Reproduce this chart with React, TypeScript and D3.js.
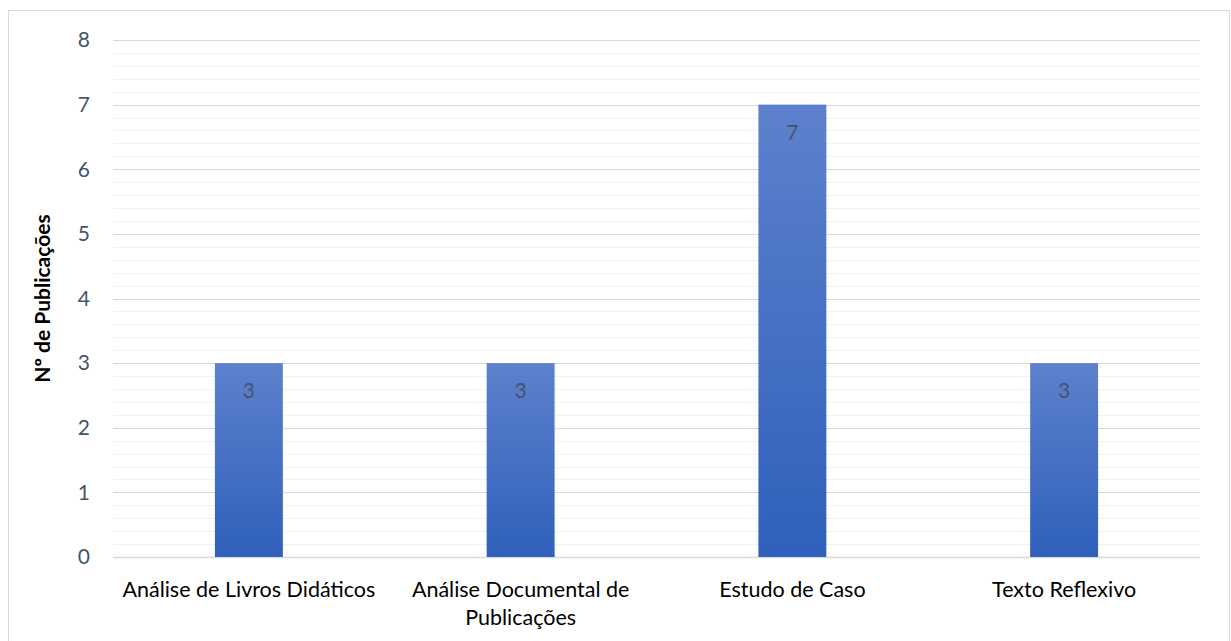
import React from "react";
import * as d3 from "d3";

const categories: string[][] = [
  ["Análise de Livros Didáticos"],
  ["Análise Documental de", "Publicações"],
  ["Estudo de Caso"],
  ["Texto Reflexivo"],
];
const values: number[] = [3, 3, 7, 3];
const yTicks: number[] = [0, 1, 2, 3, 4, 5, 6, 7, 8];
const yTitle = "Nº de Publicações";

const W = 1231;
const H = 641;
const left = 113;
const right = 1200;
const top = 40;
const bottom = 557;
const FONT = "Lato, Calibri, Carlito, sans-serif";

export default function App() {
  const x = d3
    .scaleBand<number>()
    .domain(values.map((_, i) => i))
    .range([left, right])
    .paddingInner(0.75)
    .paddingOuter(0.375);
  const y = d3.scaleLinear().domain([0, 8]).range([bottom, top]);
  const minor = d3.range(0, 8.0001, 0.2).filter((v) => Math.abs(v - Math.round(v)) > 1e-6);

  return (
    <svg
      width={W}
      height={H}
      style={{ position: "absolute", left: 0, top: 0, background: "#fff" }}
    >
      <defs>
        <linearGradient id="barGrad" x1="0" y1="0" x2="0" y2="1">
          <stop offset="0%" stopColor="#5d81cc" />
          <stop offset="100%" stopColor="#2f60bb" />
        </linearGradient>
      </defs>
      <rect x={8.5} y={10.5} width={1221} height={700} fill="#fff" stroke="#d9d9d9" strokeWidth={1} />
      {minor.map((v) => (
        <line key={"m" + v} x1={left} x2={right} y1={Math.round(y(v)) + 0.5} y2={Math.round(y(v)) + 0.5} stroke="#f2f2f2" strokeWidth={1} />
      ))}
      {yTicks.map((v) => (
        <line key={"g" + v} x1={left} x2={right} y1={Math.round(y(v)) + 0.5} y2={Math.round(y(v)) + 0.5} stroke="#d9d9d9" strokeWidth={v === 0 ? 1.5 : 1} />
      ))}
      {yTicks.map((v) => (
        <text key={"t" + v} x={90} y={y(v)} dy="0.35em" textAnchor="end" fontFamily={FONT} fontSize={21} fill="#44546a">
          {v}
        </text>
      ))}
      {values.map((v, i) => (
        <g key={"b" + i}>
          <rect x={x(i)} y={y(v)} width={x.bandwidth()} height={y(0) - y(v)} fill="url(#barGrad)" />
          <text x={(x(i) as number) + x.bandwidth() / 2} y={y(v) + 28} dy="0.35em" textAnchor="middle" fontFamily={FONT} fontSize={21} fill="#44546a">
            {v}
          </text>
        </g>
      ))}
      {categories.map((lines, i) => (
        <text key={"c" + i} x={(x(i) as number) + x.bandwidth() / 2} y={589} textAnchor="middle" fontFamily={FONT} fontSize={21.5} fill="#000">
          {lines.map((l, j) => (
            <tspan key={j} x={(x(i) as number) + x.bandwidth() / 2} dy={j === 0 ? "0.35em" : 28}>
              {l}
            </tspan>
          ))}
        </text>
      ))}
      <text
        transform={`translate(43,${(top + bottom) / 2}) rotate(-90)`}
        dy="0.35em"
        textAnchor="middle"
        fontFamily={FONT}
        fontSize={21}
        fontWeight="bold"
        fill="#000"
      >
        {yTitle}
      </text>
    </svg>
  );
}
